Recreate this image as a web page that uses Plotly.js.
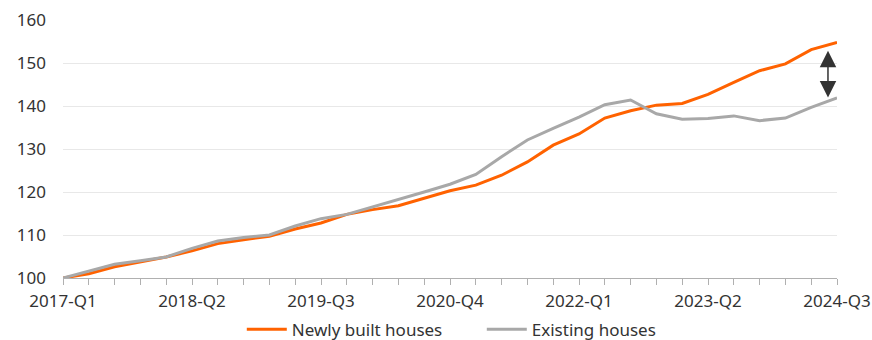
<!DOCTYPE html>
<html>
<head>
<meta charset="utf-8">
<script src="https://cdn.plot.ly/plotly-3.0.1.min.js"></script>
<style>
  html, body { margin: 0; padding: 0; background: #fff; }
  #chart { width: 872px; height: 340px; }
</style>
</head>
<body>
<div id="chart"></div>
<script>
// Quarterly house price index, 2017-Q1 = 100
const quarters = [
  '2017-Q1','2017-Q2','2017-Q3','2017-Q4',
  '2018-Q1','2018-Q2','2018-Q3','2018-Q4',
  '2019-Q1','2019-Q2','2019-Q3','2019-Q4',
  '2020-Q1','2020-Q2','2020-Q3','2020-Q4',
  '2021-Q1','2021-Q2','2021-Q3','2021-Q4',
  '2022-Q1','2022-Q2','2022-Q3','2022-Q4',
  '2023-Q1','2023-Q2','2023-Q3','2023-Q4',
  '2024-Q1','2024-Q2','2024-Q3'
];

const newlyBuilt = [
  100.0, 101.0, 102.6, 103.7, 104.9, 106.3, 108.0, 108.9,
  109.7, 111.4, 112.8, 114.8, 115.9, 116.8, 118.6, 120.3,
  121.6, 123.9, 127.0, 130.9, 133.5, 137.2, 138.9, 140.2,
  140.6, 142.7, 145.5, 148.2, 149.8, 153.1, 154.8
];

const existing = [
  100.0, 101.6, 103.2, 104.0, 104.9, 106.9, 108.6, 109.4,
  110.0, 112.1, 113.8, 114.8, 116.5, 118.3, 120.0, 121.8,
  124.1, 128.2, 132.1, 134.8, 137.4, 140.3, 141.4, 138.2,
  136.9, 137.1, 137.7, 136.6, 137.2, 139.7, 141.9
];

const tickLabels = ['2017-Q1','2018-Q2','2019-Q3','2020-Q4','2022-Q1','2023-Q2','2024-Q3'];
const yTicks = [100, 110, 120, 130, 140, 150, 160];

// Gap marker between the two series near the latest quarter
const gapX = 29.65;
const gapTop = 153.2;
const gapBottom = 142.0;

const FONT = '"Noto Sans", "Open Sans", sans-serif';
const TEXT = '#333333';

const traces = [
  {
    x: quarters, y: newlyBuilt, name: 'Newly built houses',
    type: 'scatter', mode: 'lines',
    line: { color: '#FF6200', width: 3 }
  },
  {
    x: quarters, y: existing, name: 'Existing houses',
    type: 'scatter', mode: 'lines',
    line: { color: '#A8A8A8', width: 3 }
  }
];

const layout = {
  width: 872, height: 340,
  margin: { l: 63, r: 35, t: 20, b: 62, autoexpand: false },
  paper_bgcolor: '#ffffff',
  plot_bgcolor: '#ffffff',
  font: { family: FONT, size: 17, color: TEXT },
  showlegend: true,
  legend: {
    orientation: 'h',
    xref: 'paper', x: 0.231, xanchor: 'left',
    yref: 'container', y: 0.03, yanchor: 'middle',
    font: { family: FONT, size: 17, color: TEXT },
    itemwidth: 40, tracegroupgap: 0,
    entrywidth: 185, entrywidthmode: 'pixels'
  },
  xaxis: {
    type: 'category',
    range: [0, quarters.length - 1],
    tickmode: 'array',
    tickvals: quarters,
    ticktext: quarters.map(q => tickLabels.includes(q) ? q : ''),
    ticks: 'outside', ticklen: 6, tickwidth: 1, tickcolor: '#b0b0b0',
    ticklabelstandoff: 2,
    showline: true, linecolor: '#b0b0b0', linewidth: 1,
    showgrid: false, zeroline: false,
    tickfont: { family: FONT, size: 17, color: TEXT },
    fixedrange: true
  },
  yaxis: {
    range: [100, 160],
    tickmode: 'array', tickvals: yTicks,
    showgrid: true, gridcolor: '#e8e8e8', gridwidth: 1,
    showline: false, zeroline: false,
    ticks: '', ticklabelstandoff: 16,
    tickfont: { family: FONT, size: 17, color: TEXT },
    fixedrange: true
  },
  annotations: [
    {
      x: gapX, y: gapBottom, ax: gapX, ay: gapTop,
      xref: 'x', yref: 'y', axref: 'x', ayref: 'y',
      text: '', showarrow: true,
      arrowside: 'end+start',
      arrowhead: 2, startarrowhead: 2,
      arrowsize: 2.2, startarrowsize: 2.2,
      arrowwidth: 1.5, arrowcolor: '#333333',
      standoff: 0, startstandoff: 0
    }
  ]
};

Plotly.newPlot('chart', traces, layout, { displayModeBar: false, staticPlot: true });
</script>
</body>
</html>
